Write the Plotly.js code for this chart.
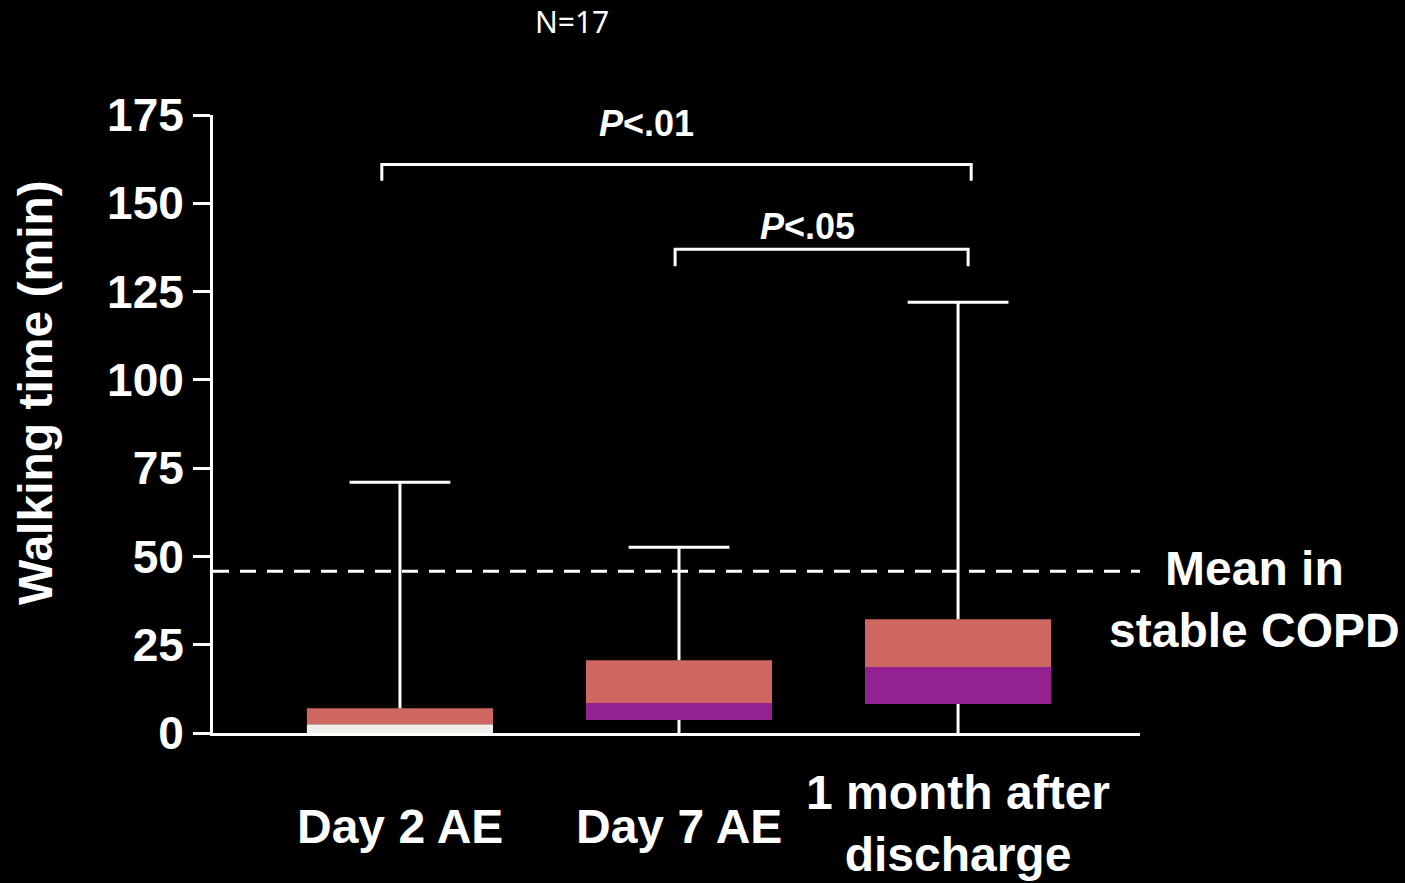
<!DOCTYPE html>
<html>
<head>
<meta charset="utf-8">
<script src="https://cdn.plot.ly/plotly-3.0.1.min.js"></script>
<style>
  html, body { margin: 0; padding: 0; background: #000; }
  #chart { width: 1405px; height: 883px; }
</style>
</head>
<body>
<div id="chart"></div>
<script>
// Walking time per assessment point: box = Q1..median..Q3, whiskers min..max
const categories = ['Day 2 AE', 'Day 7 AE', '1 month after<br>discharge'];
const minVals    = [0, 0, 0];
const q1Vals     = [0, 3.7, 8.2];
const medianVals = [2.5, 8.5, 18.7];
const q3Vals     = [7, 20.6, 32.2];
const maxVals    = [71, 52.6, 122];
const lowerColors = ['#F0EEE8', '#932190', '#932190'];
const upperColor  = '#CD6760';
const stableMean = 45.8;            // mean walking time in stable COPD
const brackets = [                  // pairwise comparisons
  { from: 0, to: 2, label: '<i>P</i><.01', level: 161, depth: 4.6, left: 0.065, right: 0.047, textX: 0.885, textY: 172.7 },
  { from: 1, to: 2, label: '<i>P</i><.05', level: 137, depth: 4.8, left: 0.014, right: 0.036, textX: 1.462, textY: 143.3 }
];

const xs = categories.map((_, i) => i);
const BOLD = 'Liberation Sans, Arial, sans-serif';

// vertical whisker segments, separated by gaps
function segments(from, to) {
  const sx = [], sy = [];
  xs.forEach(i => {
    if (to[i] > from[i]) { sx.push(i, i, null); sy.push(from[i], to[i], null); }
  });
  return { x: sx, y: sy };
}
const upper = segments(q3Vals, maxVals);
const lower = segments(minVals, q1Vals);

const traces = [
  {
    type: 'bar', x: xs, base: q1Vals,
    y: medianVals.map((m, i) => m - q1Vals[i]),
    width: 0.667, marker: { color: lowerColors, line: { width: 0 } },
    hoverinfo: 'skip', showlegend: false
  },
  {
    type: 'bar', x: xs, base: medianVals,
    y: q3Vals.map((q, i) => q - medianVals[i]),
    width: 0.667, marker: { color: upperColor, line: { width: 0 } },
    hoverinfo: 'skip', showlegend: false
  },
  {
    type: 'scatter', mode: 'lines', x: upper.x, y: upper.y,
    line: { color: '#ffffff', width: 3 }, connectgaps: false,
    hoverinfo: 'skip', showlegend: false
  },
  {
    type: 'scatter', mode: 'lines', x: lower.x, y: lower.y,
    line: { color: '#ffffff', width: 3 }, connectgaps: false,
    hoverinfo: 'skip', showlegend: false
  },
  // whisker caps at the maxima
  {
    type: 'scatter', mode: 'markers', x: xs, y: maxVals,
    marker: { symbol: 'line-ew', size: 72, color: '#ffffff', line: { color: '#ffffff', width: 3 } },
    hoverinfo: 'skip', showlegend: false
  }
];

const shapes = [
  { type: 'line', xref: 'paper', yref: 'y', x0: 0, x1: 1, y0: stableMean, y1: stableMean,
    line: { color: '#ffffff', width: 3, dash: '16px,11px' } }
];
const annotations = [];

brackets.forEach(b => {
  const x0 = b.from - b.left, x1 = b.to + b.right;
  shapes.push({
    type: 'path', xref: 'x', yref: 'y',
    path: `M ${x0},${b.level - b.depth} L ${x0},${b.level} L ${x1},${b.level} L ${x1},${b.level - b.depth}`,
    line: { color: '#ffffff', width: 3 }
  });
  annotations.push({
    xref: 'x', yref: 'y', x: b.textX, y: b.textY,
    yanchor: 'middle', showarrow: false, text: '<b>' + b.label + '</b>',
    font: { family: BOLD, size: 36, color: '#ffffff' }
  });
});

categories.forEach((c, i) => {
  const multiLine = c.indexOf('<br>') >= 0;
  annotations.push({
    xref: 'x', yref: 'paper', x: i, y: multiLine ? -0.146 : -0.152, yanchor: 'middle',
    showarrow: false, text: '<b>' + c + '</b>',
    font: { family: BOLD, size: 48, color: '#ffffff' }
  });
});

annotations.push(
  { xref: 'paper', yref: 'y', x: 1.123, y: stableMean - 8, xanchor: 'center', yanchor: 'middle',
    showarrow: false, text: '<b>Mean in<br>stable COPD</b>',
    font: { family: BOLD, size: 48, color: '#ffffff' } },
  { xref: 'paper', yref: 'paper', x: -0.192, y: 0.55, xanchor: 'center', yanchor: 'middle',
    textangle: -90, showarrow: false, text: '<b>Walking time (min)</b>',
    font: { family: BOLD, size: 48, color: '#ffffff' } },
  { xref: 'paper', yref: 'paper', x: 0.387, y: 1.152, xanchor: 'center', yanchor: 'middle',
    showarrow: false, text: 'N=17',
    font: { family: 'Noto Sans, sans-serif', size: 30, color: '#ffffff' } }
);

const layout = {
  width: 1405, height: 883,
  paper_bgcolor: '#000000', plot_bgcolor: '#000000',
  margin: { l: 213, r: 265, t: 115, b: 150 },
  barmode: 'overlay',
  xaxis: {
    range: [-0.67, 2.652], showgrid: false, zeroline: false,
    showline: true, linecolor: '#ffffff', linewidth: 3,
    ticks: '', showticklabels: false, fixedrange: true
  },
  yaxis: {
    range: [0, 175], tickvals: [0, 25, 50, 75, 100, 125, 150, 175],
    showgrid: false, zeroline: false,
    showline: true, linecolor: '#ffffff', linewidth: 3,
    ticks: 'outside', ticklen: 17, tickwidth: 3, tickcolor: '#ffffff',
    ticklabelstandoff: 0,
    tickfont: { family: BOLD, size: 46, color: '#ffffff', weight: 700 },
    fixedrange: true
  },
  shapes: shapes,
  annotations: annotations
};

Plotly.newPlot('chart', traces, layout, { displayModeBar: false, staticPlot: true });
</script>
</body>
</html>
